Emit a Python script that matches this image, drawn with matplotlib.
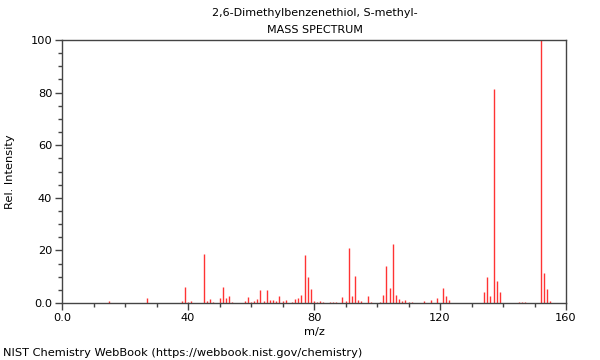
import matplotlib
matplotlib.use("Agg")
import matplotlib.pyplot as plt
from matplotlib.ticker import MultipleLocator, FixedLocator

mz = [15, 27, 38, 39, 40, 41, 45, 46, 47, 48, 50, 51, 52, 53, 54,
      58, 59, 60, 61, 62, 63, 64, 65, 66, 67, 68, 69, 70, 71, 73, 74, 75,
      76, 77, 78, 79, 80, 81, 82, 83, 85, 86, 87, 89, 90, 91, 92, 93, 94, 95,
      97, 98, 101, 102, 103, 104, 105, 106, 107, 108, 109, 110, 111,
      115, 117, 119, 121, 122, 123, 134, 135, 136, 137, 138, 139,
      145, 146, 147, 152, 153, 154, 155]
intensity = [0.9, 1.9, 0.6, 6.0, 0.3, 0.9, 18.8, 0.9, 1.5, 0.3, 2.0, 6.2, 1.9, 2.7, 0.3,
             0.6, 2.3, 0.3, 0.8, 1.5, 4.8, 0.8, 5.1, 1.1, 1.3, 0.6, 2.8, 0.8, 1.1, 0.5, 1.5, 1.9,
             3.2, 18.4, 9.9, 5.5, 0.6, 0.5, 0.7, 0.5, 0.5, 0.5, 0.5, 2.2, 0.9, 20.9, 2.5, 10.4, 1.0, 0.8,
             2.8, 0.4, 0.5, 3.2, 13.9, 5.7, 22.4, 3.2, 1.5, 0.6, 1.3, 0.4, 0.4,
             0.9, 1.0, 2.0, 5.7, 2.8, 1.0, 4.3, 9.8, 2.8, 81.3, 8.4, 4.2,
             0.3, 0.3, 0.3, 100.0, 11.5, 5.5, 0.8]

title_lines = ["2,6-Dimethylbenzenethiol, S-methyl-", "MASS SPECTRUM"]
x_ticks = [0, 40, 80, 120, 160]
x_tick_labels = ["0.0", "40", "80", "120", "160"]
y_ticks = [0, 20, 40, 60, 80, 100]
y_tick_labels = ["0.0", "20", "40", "60", "80", "100"]

fig = plt.figure(figsize=(6, 3.6), dpi=100)
ax = fig.add_axes([62/600, 1-303/360, (566-62)/600, (303-40)/360])

ax.vlines(mz, 0, intensity, colors="#ff3333", linewidth=1.0)

ax.set_xlim(0, 160)
ax.set_ylim(0, 100)
ax.xaxis.set_major_locator(FixedLocator(x_ticks))
ax.set_xticklabels(x_tick_labels)
ax.xaxis.set_minor_locator(MultipleLocator(10))
ax.yaxis.set_major_locator(FixedLocator(y_ticks))
ax.set_yticklabels(y_tick_labels)
ax.yaxis.set_minor_locator(MultipleLocator(5))

for s in ax.spines.values():
    s.set_color("#444444")
    s.set_linewidth(1.0)
ax.tick_params(which="major", direction="out", length=5, width=1, color="#444444",
               labelsize=8.2, labelcolor="black", pad=2)
ax.tick_params(which="minor", direction="out", length=3, width=1, color="#444444")

ax.set_xlabel("m/z", fontsize=8.2, labelpad=3)
ax.set_ylabel("Rel. Intensity", fontsize=8.2, labelpad=11)

fig.text(315/600, 1-13/360, title_lines[0], ha="center", va="center", fontsize=8)
fig.text(315/600, 1-30/360, title_lines[1], ha="center", va="center", fontsize=8)
fig.text(3/600, 1-353/360, "NIST Chemistry WebBook (https://webbook.nist.gov/chemistry)",
         ha="left", va="center", fontsize=8.2)

fig.savefig("out.png", dpi=100)
